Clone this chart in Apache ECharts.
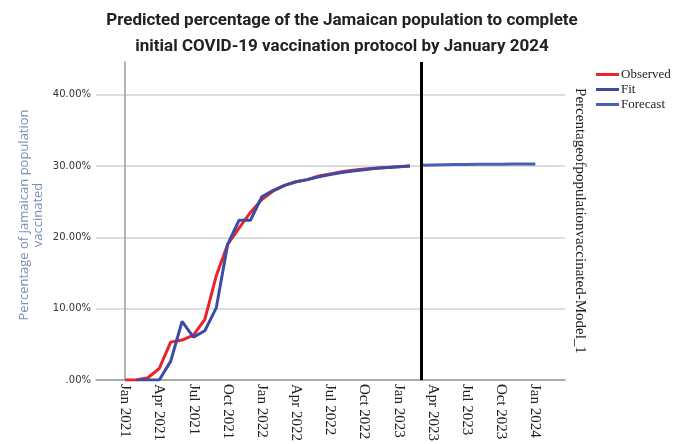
<!DOCTYPE html>
<html>
<head>
<meta charset="utf-8">
<script src="https://cdn.jsdelivr.net/npm/echarts@6/dist/echarts.min.js"></script>
<style>
  html, body { margin: 0; padding: 0; background: #ffffff; }
  #chart { width: 684px; height: 444px; }
</style>
</head>
<body>
<div id="chart"></div>
<script>
// Months are indexed from Jan 2021 (0) onward.
const monthNames = ['Jan', 'Feb', 'Mar', 'Apr', 'May', 'Jun', 'Jul', 'Aug', 'Sep', 'Oct', 'Nov', 'Dec'];
const labelMonths = [0, 3, 6, 9, 12, 15, 18, 21, 24, 27, 30, 33, 36];
const yTicks = [0, 10, 20, 30, 40];

// Observed share of population vaccinated (%), Jan 2021 - Feb 2023
const observedStart = 0;
const observed = [0, 0, 0.3, 1.6, 5.3, 5.6, 6.3, 8.5, 14.6, 19.0, 21.3, 23.5, 25.3,
                  26.5, 27.3, 27.8, 28.1, 28.6, 28.9, 29.2, 29.4, 29.6, 29.7, 29.8, 29.9, 30.0];

// Model fit (%), Feb 2021 - Feb 2023
const fitStart = 1;
const fit = [0, 0, 0, 2.6, 8.2, 6.0, 6.9, 10.1, 19.0, 22.4, 22.4, 25.7,
             26.6, 27.3, 27.8, 28.1, 28.5, 28.8, 29.1, 29.3, 29.5, 29.7, 29.8, 29.9, 30.0];

// Forecast (%), Mar 2023 - Jan 2024
const forecastStart = 26;
const forecast = [30.1, 30.15, 30.18, 30.21, 30.23, 30.25, 30.26, 30.27, 30.28, 30.29, 30.3];

function toPairs(start, values) {
  return values.map((v, i) => [start + i, v]);
}
function monthLabel(m) {
  return monthNames[((m % 12) + 12) % 12] + ' ' + (2021 + Math.floor(m / 12));
}

const chart = echarts.init(document.getElementById('chart'), null, { renderer: 'canvas' });

chart.setOption({
  backgroundColor: '#ffffff',
  animation: false,
  title: {
    text: 'Predicted percentage of the Jamaican population to complete\ninitial COVID-19 vaccination protocol by January 2024',
    left: 'center',
    top: 3,
    textStyle: {
      fontFamily: 'Roboto',
      fontWeight: 'bold',
      fontSize: 17,
      lineHeight: 26,
      color: '#222222'
    }
  },
  legend: {
    data: ['Observed', 'Fit', 'Forecast'],
    orient: 'vertical',
    left: 591,
    top: 63,
    icon: 'rect',
    itemWidth: 23,
    itemHeight: 3,
    itemGap: 2,
    textStyle: {
      fontFamily: 'Liberation Serif',
      fontSize: 13,
      color: '#222222',
      padding: [0, 0, 0, -3]
    }
  },
  grid: { left: 96, right: 119, top: 62, bottom: 61 },
  xAxis: {
    type: 'value',
    min: -2.55,
    max: 38.6,
    splitLine: { show: false },
    axisTick: { show: false },
    axisLine: { show: true, lineStyle: { color: '#9a9a9a', width: 1.5 } },
    axisLabel: {
      customValues: labelMonths,
      formatter: (v) => monthLabel(Math.round(v)),
      rotate: -90,
      margin: 4,
      fontFamily: 'Liberation Serif',
      fontSize: 15,
      color: '#222222'
    }
  },
  yAxis: [
    {
      type: 'value',
      min: 0,
      max: 44.6,
      position: 'left',
      axisLine: { show: true, lineStyle: { color: '#9a9a9a', width: 1.5 } },
      axisTick: { show: false },
      axisLabel: {
        customValues: yTicks,
        formatter: (v) => (v === 0 ? '.00%' : v.toFixed(2) + '%'),
        fontFamily: 'DejaVu Sans',
        fontSize: 10,
        color: '#333333',
        margin: 5
      },
      splitLine: {
        show: true,
        showMaxLine: false,
        lineStyle: { color: '#d2d2d2', width: 1.5 }
      },
      interval: 10,
      name: 'Percentage of Jamaican population\nvaccinated',
      nameLocation: 'middle',
      nameGap: 51,
      nameMoveOverlap: false,
      nameTextStyle: {
        fontFamily: 'Open Sans',
        fontSize: 13,
        lineHeight: 14,
        color: '#7d8fb3',
        padding: [0, 0, 0, 12]
      }
    },
    {
      type: 'value',
      min: 0,
      max: 44.6,
      position: 'right',
      axisLine: { show: false },
      axisTick: { show: false },
      axisLabel: { show: false },
      splitLine: { show: false },
      name: 'Percentageofpopulationvaccinated-Model_1',
      nameLocation: 'middle',
      nameRotate: -90,
      nameGap: 7,
      nameTextStyle: {
        fontFamily: 'Liberation Serif',
        fontSize: 15,
        color: '#222222'
      }
    }
  ],
  series: [
    {
      name: 'Observed',
      type: 'line',
      data: toPairs(observedStart, observed),
      symbol: 'none',
      z: 2,
      lineStyle: { color: '#e8232b', width: 3 },
      itemStyle: { color: '#e8232b' }
    },
    {
      name: 'Fit',
      type: 'line',
      data: toPairs(fitStart, fit),
      symbol: 'none',
      z: 3,
      lineStyle: { color: '#3b4ca5', width: 3 },
      itemStyle: { color: '#3b4ca5' }
    },
    {
      name: 'Forecast',
      type: 'line',
      data: toPairs(forecastStart, forecast),
      symbol: 'none',
      z: 3,
      lineStyle: { color: '#4a5fb5', width: 3 },
      itemStyle: { color: '#4a5fb5' },
      markLine: {
        silent: true,
        symbol: ['none', 'none'],
        label: { show: false },
        lineStyle: { color: '#000000', width: 3, type: 'solid' },
        data: [{ xAxis: forecastStart }]
      }
    }
  ]
});
</script>
</body>
</html>
